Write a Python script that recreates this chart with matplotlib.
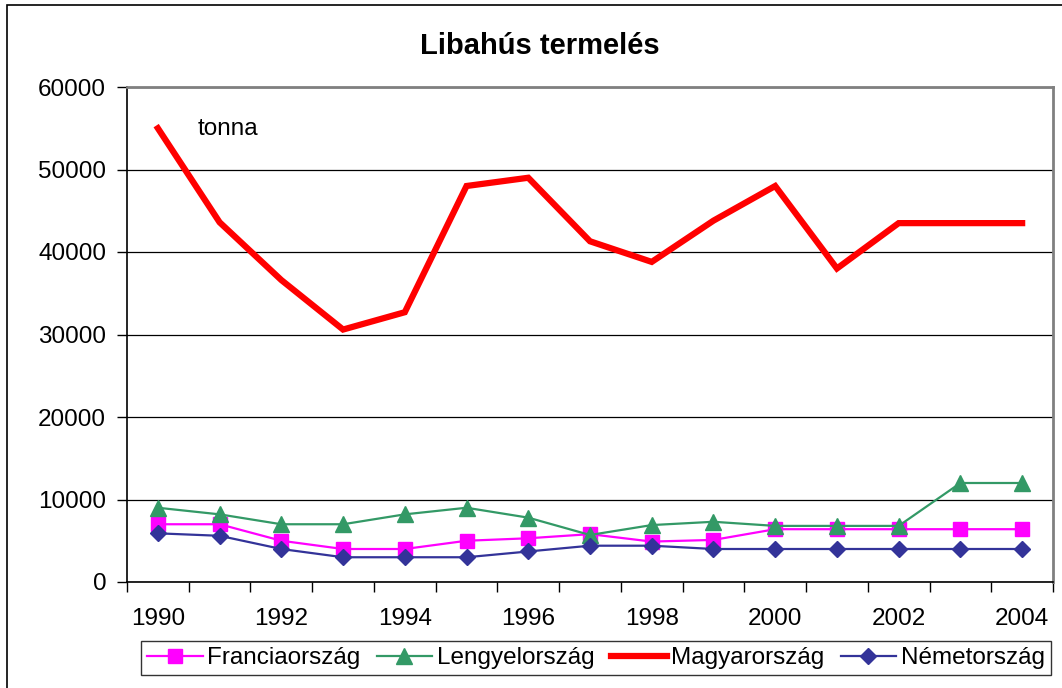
import matplotlib.pyplot as plt
from matplotlib.patches import Rectangle

plt.rcParams['font.family'] = ['Liberation Sans', 'DejaVu Sans']

# data
years = list(range(1990, 2005))
franciaorszag = [7000, 7000, 5000, 4000, 4000, 5000, 5300, 5800, 4900, 5100,
                 6400, 6400, 6400, 6400, 6400]
lengyelorszag = [9000, 8200, 7000, 7000, 8200, 9000, 7800, 5700, 6900, 7300,
                 6800, 6800, 6800, 12000, 12000]
magyarorszag = [55000, 43600, 36600, 30600, 32700, 48000, 49000, 41300, 38800,
                43800, 48000, 38000, 43500, 43500, 43500]
nemetorszag = [5900, 5600, 4000, 3000, 3000, 3000, 3700, 4400, 4400, 4000,
               4000, 4000, 4000, 4000, 4000]

fig = plt.figure(figsize=(10.62, 6.88), dpi=100)
ax = fig.add_axes([127/1062, 1-582/688, (1053-127)/1062, (582-87)/688])

x = list(range(len(years)))
ax.plot(x, franciaorszag, color='#FF00FF', lw=1.6, marker='s', ms=10,
        label='Franciaország', zorder=3)
ax.plot(x, lengyelorszag, color='#339966', lw=1.6, marker='^', ms=11,
        label='Lengyelország', zorder=3)
ax.plot(x, magyarorszag, color='#FF0000', lw=4.5, label='Magyarország',
        solid_joinstyle='miter', zorder=4)
ax.plot(x, nemetorszag, color='#333399', lw=1.6, marker='D', ms=8,
        label='Németország', zorder=3)

ax.set_xlim(-0.5, len(years) - 0.5)
ax.set_ylim(0, 60000)
ax.set_yticks(range(0, 60001, 10000))
ax.yaxis.grid(True, color='black', lw=0.9)
ax.set_axisbelow(True)

# tick marks between categories, labels on every second year
ax.set_xticks([i - 0.5 for i in range(len(years) + 1)])
ax.set_xticklabels([])
ax.set_xticks(x[::2], minor=True)
ax.set_xticklabels([str(y) for y in years[::2]], minor=True)
ax.tick_params(axis='x', which='major', length=7, width=1, direction='out')
ax.tick_params(axis='x', which='minor', length=0, pad=19, labelsize=17.5)
ax.tick_params(axis='y', length=7, width=1, pad=8, labelsize=17.5)

for s in ['left', 'bottom']:
    ax.spines[s].set_color('black')
    ax.spines[s].set_linewidth(1.2)
for s in ['top', 'right']:
    ax.spines[s].set_color('#808080')
    ax.spines[s].set_linewidth(2)

ax.text(0.65, 54200, 'tonna', fontsize=17.5, va='baseline')

fig.text(540/1062, 1-54/688, 'Libahús termelés', fontsize=21,
         fontweight='bold', ha='center', va='baseline')

leg = fig.legend(loc='center', bbox_to_anchor=(596/1062, 1-658/688), ncol=4,
                 fontsize=17.5, frameon=True, fancybox=False, edgecolor='black',
                 handlelength=2.3, handletextpad=0.2, columnspacing=0.65,
                 borderpad=0.25, borderaxespad=0)
leg.get_frame().set_linewidth(1)

fig.patches.append(Rectangle((7/1062, -0.1), 2, 1.1 - 5/688,
                             transform=fig.transFigure, fill=False,
                             edgecolor='black', lw=1.2))

fig.savefig('out.png', dpi=100)
